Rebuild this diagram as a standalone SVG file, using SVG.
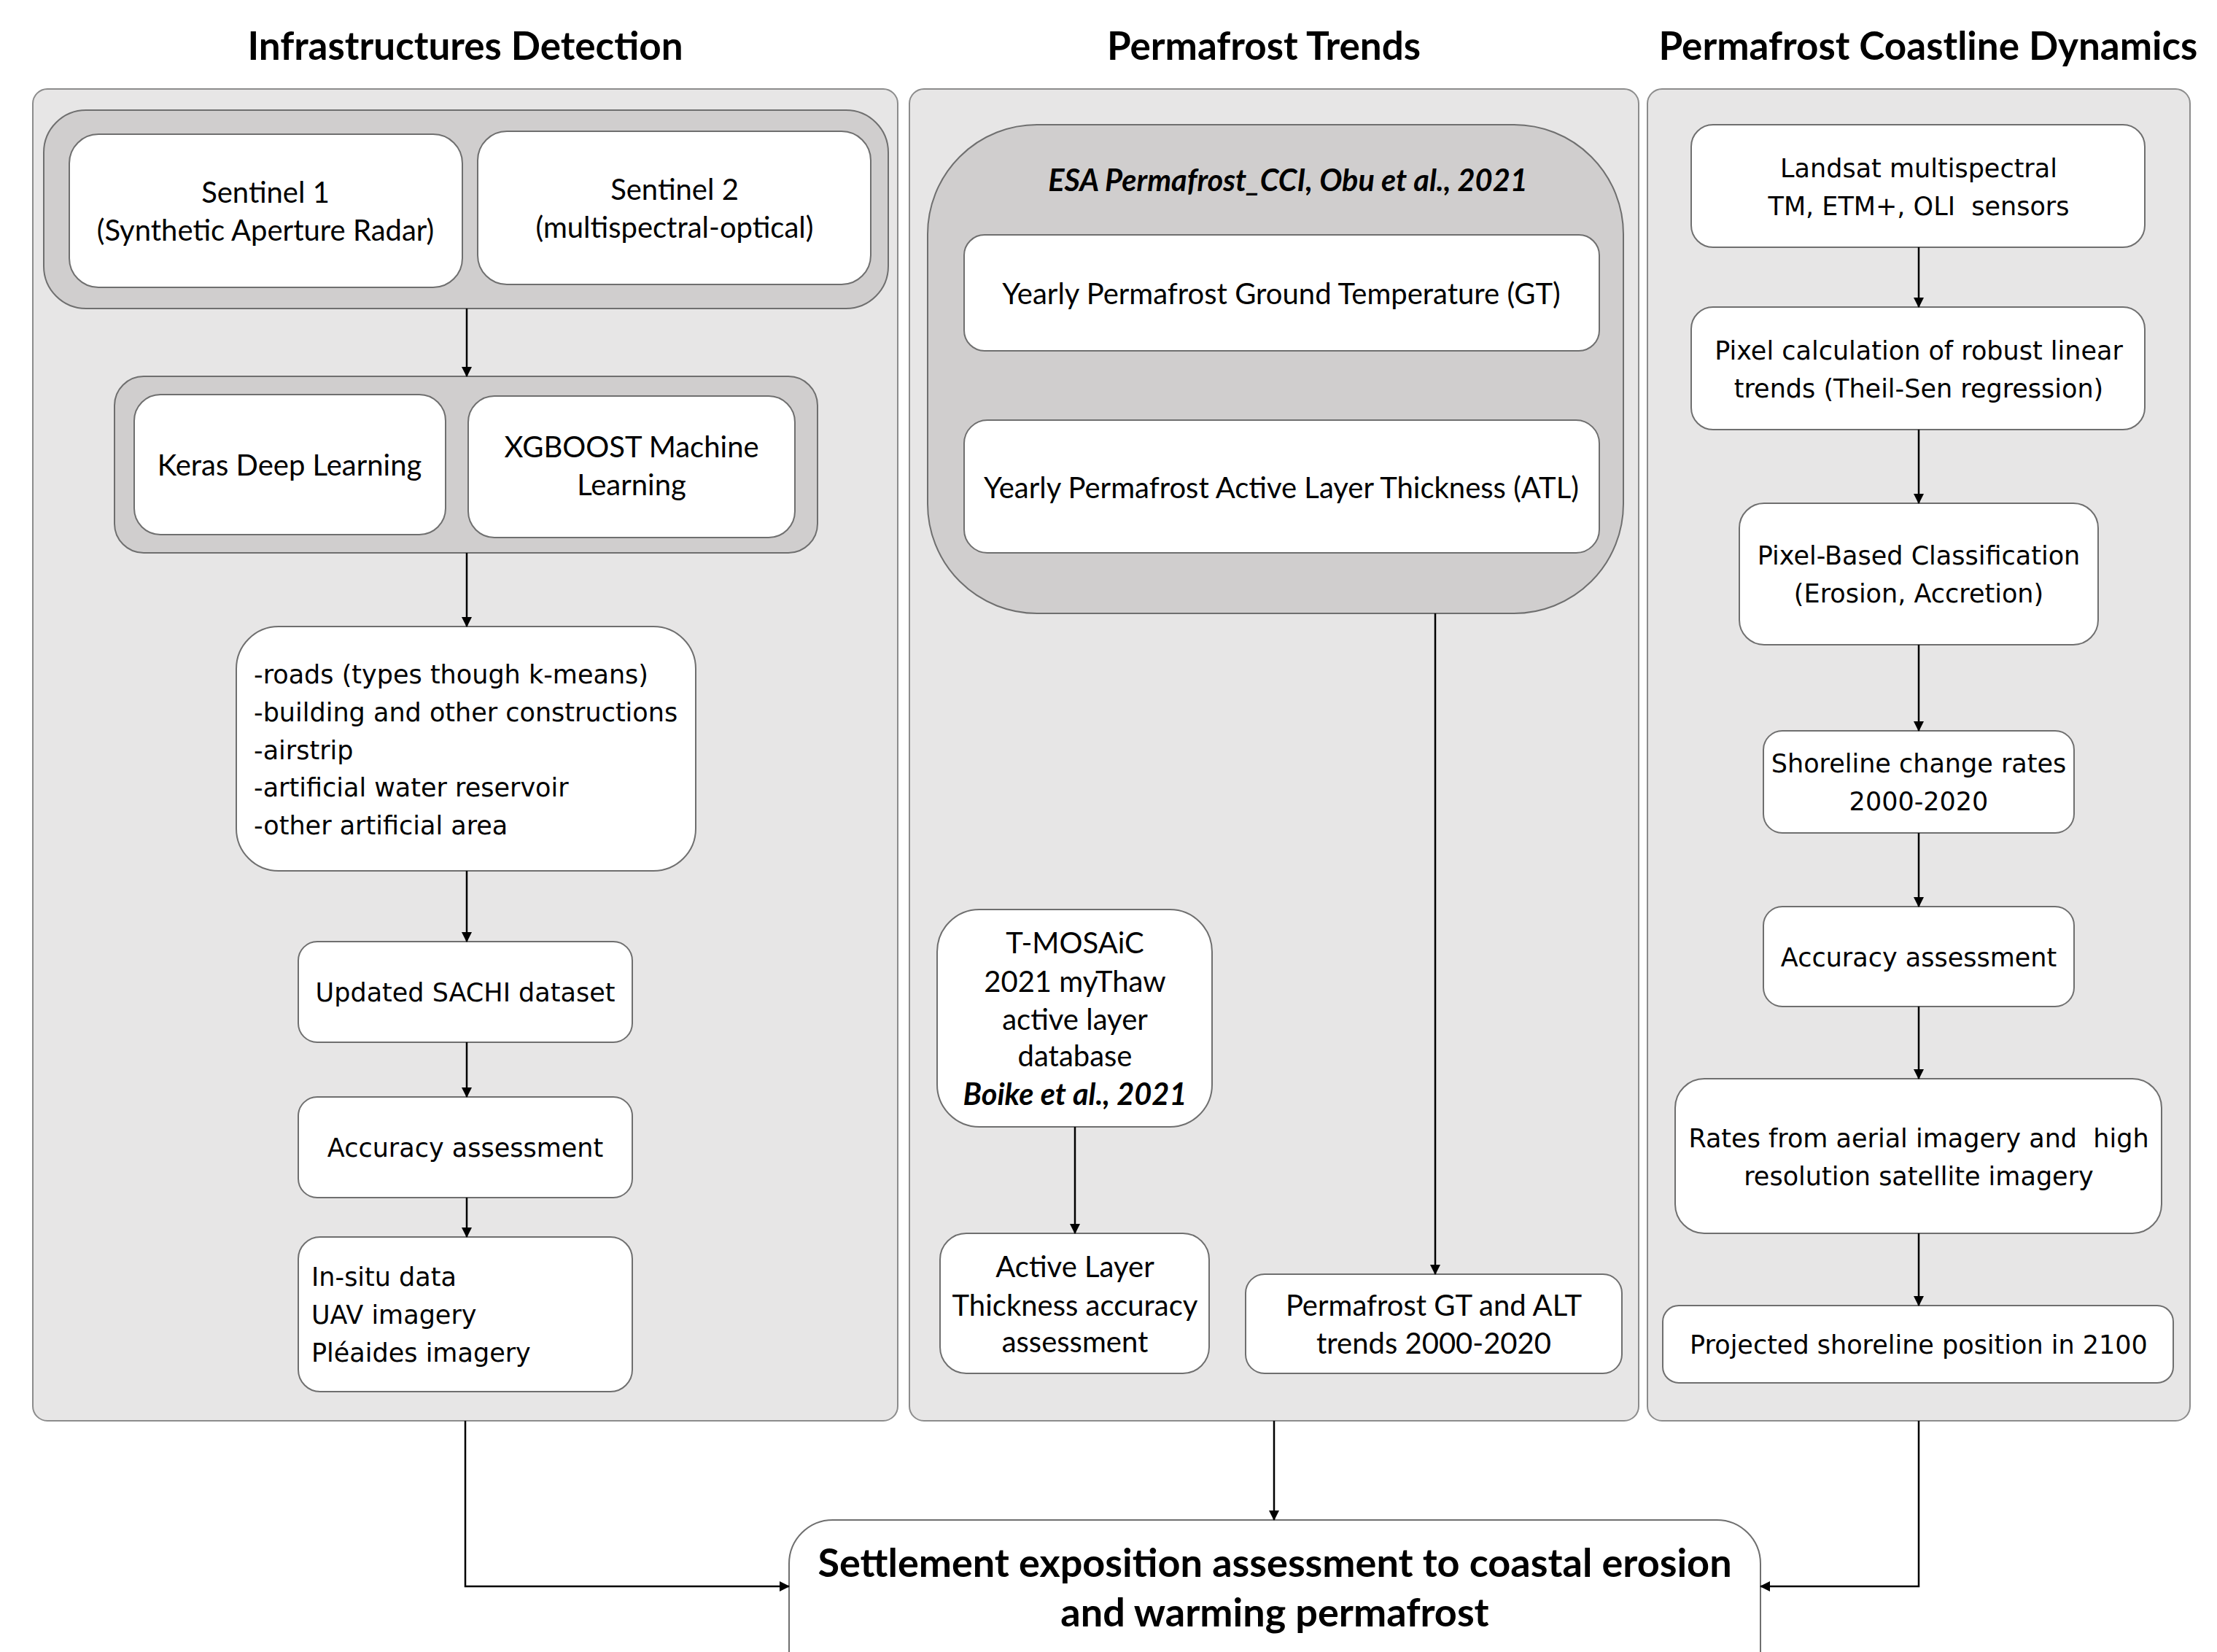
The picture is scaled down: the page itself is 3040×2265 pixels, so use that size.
<svg xmlns="http://www.w3.org/2000/svg" width="3040" height="2265" viewBox="0 0 3040 2265">
<defs>
<marker id="ah" markerWidth="14" markerHeight="16" refX="13" refY="8" orient="auto" markerUnits="userSpaceOnUse">
<path d="M0,1 L14,8 L0,15 Z" fill="#000"/>
</marker>
<style>
.panel{fill:#e7e6e6;stroke:#8c8c8c;stroke-width:2}
.grp{fill:#d0cece;stroke:#6f6f6f;stroke-width:2}
.box{fill:#fff;stroke:#6f6f6f;stroke-width:2}
.title{font-family:Lato,"Liberation Sans",sans-serif;font-weight:bold;font-size:53px;fill:#000;text-anchor:middle}
.c{font-family:Lato,"Liberation Sans",sans-serif;font-size:40px;fill:#000;text-anchor:middle}
.v{font-family:"DejaVu Sans","Liberation Sans",sans-serif;font-size:35px;fill:#000;text-anchor:middle;white-space:pre}
.vl{font-family:"DejaVu Sans","Liberation Sans",sans-serif;font-size:35px;fill:#000;text-anchor:start}
.bi{font-weight:bold;font-style:italic;font-size:41.5px}
.big{font-family:Lato,"Liberation Sans",sans-serif;font-weight:bold;font-size:54px;fill:#000;text-anchor:middle}
.con{fill:none;stroke:#000;stroke-width:2.5;marker-end:url(#ah)}
</style>
</defs>
<rect width="3040" height="2265" fill="#fff"/>

<g id="panel-infra">
<rect class="panel" x="45" y="122" width="1186" height="1826" rx="20"/>
<text class="title" x="638" y="82">Infrastructures Detection</text>
</g>
<g id="panel-trends">
<rect class="panel" x="1247" y="122" width="1000" height="1826" rx="20"/>
<text class="title" x="1733" y="82">Permafrost Trends</text>
</g>
<g id="panel-coast">
<rect class="panel" x="2259" y="122" width="744" height="1826" rx="20"/>
<text class="title" x="2644" y="82">Permafrost Coastline Dynamics</text>
</g>

<g id="sentinel-group">
<rect class="grp" x="60" y="151" width="1158" height="272" rx="58"/>
</g>
<g id="sentinel1">
<rect class="box" x="95" y="184" width="539" height="210" rx="40"/>
<text class="c" x="364" y="278">Sentinel 1</text>
<text class="c" x="364" y="330">(Synthetic Aperture Radar)</text>
</g>
<g id="sentinel2">
<rect class="box" x="655" y="180" width="539" height="210" rx="40"/>
<text class="c" x="925" y="274">Sentinel 2</text>
<text class="c" x="925" y="326">(multispectral-optical)</text>
</g>

<g id="ml-group">
<rect class="grp" x="157" y="516" width="964" height="242" rx="40"/>
</g>
<g id="keras">
<rect class="box" x="184" y="541" width="427" height="192" rx="36"/>
<text class="c" x="397" y="652">Keras Deep Learning</text>
</g>
<g id="xgboost">
<rect class="box" x="642" y="543" width="448" height="194" rx="36"/>
<text class="c" x="866" y="627">XGBOOST Machine</text>
<text class="c" x="866" y="679">Learning</text>
</g>

<g id="infra-types">
<rect class="box" x="324" y="859" width="630" height="335" rx="58"/>
<text class="vl" x="348" y="937">-roads (types though k-means)</text>
<text class="vl" x="348" y="989">-building and other constructions</text>
<text class="vl" x="348" y="1041">-airstrip</text>
<text class="vl" x="348" y="1092">-artificial water reservoir</text>
<text class="vl" x="348" y="1144">-other artificial area</text>
</g>
<g id="sachi">
<rect class="box" x="409" y="1291" width="458" height="138" rx="26"/>
<text class="v" x="638" y="1373">Updated SACHI dataset</text>
</g>
<g id="accuracy-infra">
<rect class="box" x="409" y="1504" width="458" height="138" rx="26"/>
<text class="v" x="638" y="1586">Accuracy assessment</text>
</g>
<g id="insitu">
<rect class="box" x="409" y="1696" width="458" height="212" rx="30"/>
<text class="vl" x="427" y="1763">In-situ data</text>
<text class="vl" x="427" y="1815">UAV imagery</text>
<text class="vl" x="427" y="1867">Pléaides imagery</text>
</g>

<g id="esa-group">
<rect class="grp" x="1272" y="171" width="954" height="670" rx="150"/>
<text class="c bi" x="1766" y="262">ESA Permafrost_CCI, Obu et al., 2021</text>
</g>
<g id="gt">
<rect class="box" x="1322" y="322" width="871" height="159" rx="28"/>
<text class="c" x="1757" y="417">Yearly Permafrost Ground Temperature (GT)</text>
</g>
<g id="atl">
<rect class="box" x="1322" y="576" width="871" height="182" rx="32"/>
<text class="c" x="1757" y="683">Yearly Permafrost Active Layer Thickness (ATL)</text>
</g>
<g id="tmosaic">
<rect class="box" x="1285" y="1247" width="377" height="298" rx="58"/>
<text class="c" x="1474" y="1307">T-MOSAiC</text>
<text class="c" x="1474" y="1360">2021 myThaw</text>
<text class="c" x="1474" y="1412">active layer</text>
<text class="c" x="1474" y="1462">database</text>
<text class="c bi" x="1474" y="1515">Boike et al., 2021</text>
</g>
<g id="alt-accuracy">
<rect class="box" x="1289" y="1691" width="369" height="192" rx="36"/>
<text class="c" x="1474" y="1751">Active Layer</text>
<text class="c" x="1474" y="1804">Thickness accuracy</text>
<text class="c" x="1474" y="1854">assessment</text>
</g>
<g id="gt-alt-trends">
<rect class="box" x="1708" y="1747" width="516" height="136" rx="26"/>
<text class="c" x="1966" y="1804">Permafrost GT and ALT</text>
<text class="c" x="1966" y="1856">trends 2000-2020</text>
</g>

<g id="landsat">
<rect class="box" x="2319" y="171" width="622" height="168" rx="30"/>
<text class="v" x="2631" y="243">Landsat multispectral</text>
<text class="v" x="2631" y="295" xml:space="preserve">TM, ETM+, OLI  sensors</text>
</g>
<g id="theilsen">
<rect class="box" x="2319" y="421" width="622" height="168" rx="30"/>
<text class="v" x="2631" y="493">Pixel calculation of robust linear</text>
<text class="v" x="2631" y="545">trends (Theil-Sen regression)</text>
</g>
<g id="classification">
<rect class="box" x="2385" y="690" width="492" height="194" rx="34"/>
<text class="v" x="2631" y="774">Pixel-Based Classification</text>
<text class="v" x="2631" y="826">(Erosion, Accretion)</text>
</g>
<g id="shoreline">
<rect class="box" x="2418" y="1002" width="426" height="140" rx="26"/>
<text class="v" x="2631" y="1059">Shoreline change rates</text>
<text class="v" x="2631" y="1111">2000-2020</text>
</g>
<g id="accuracy-coast">
<rect class="box" x="2418" y="1243" width="426" height="137" rx="26"/>
<text class="v" x="2631" y="1325">Accuracy assessment</text>
</g>
<g id="rates">
<rect class="box" x="2297" y="1479" width="667" height="212" rx="40"/>
<text class="v" x="2631" y="1573" xml:space="preserve">Rates from aerial imagery and  high</text>
<text class="v" x="2631" y="1625">resolution satellite imagery</text>
</g>
<g id="projected">
<rect class="box" x="2280" y="1790" width="700" height="106" rx="22"/>
<text class="v" x="2631" y="1856">Projected shoreline position in 2100</text>
</g>

<g id="settlement">
<rect class="box" x="1082" y="2084" width="1332" height="260" rx="60"/>
<text class="big" x="1748" y="2162">Settlement exposition assessment to coastal erosion</text>
<text class="big" x="1748" y="2230">and warming permafrost</text>
</g>

<g id="connectors">
<path class="con" d="M640 423 V516"/>
<path class="con" d="M640 758 V859"/>
<path class="con" d="M640 1194 V1291"/>
<path class="con" d="M640 1429 V1504"/>
<path class="con" d="M640 1642 V1696"/>
<path class="con" d="M1968 841 V1747"/>
<path class="con" d="M1474 1545 V1691"/>
<path class="con" d="M2631 339 V421"/>
<path class="con" d="M2631 589 V690"/>
<path class="con" d="M2631 884 V1002"/>
<path class="con" d="M2631 1142 V1243"/>
<path class="con" d="M2631 1380 V1479"/>
<path class="con" d="M2631 1691 V1790"/>
<path class="con" d="M638 1948 V2175 H1082"/>
<path class="con" d="M1747 1948 V2084"/>
<path class="con" d="M2631 1948 V2175 H2414"/>
</g>
</svg>
